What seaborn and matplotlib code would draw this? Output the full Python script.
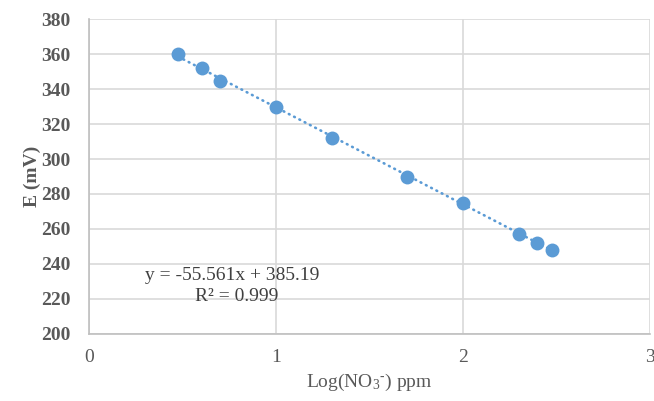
import numpy as np
import pandas as pd
import matplotlib
matplotlib.use("Agg")
import matplotlib.pyplot as plt
import seaborn as sns

# data
log_no3 = [0.477, 0.602, 0.699, 1.0, 1.301, 1.699, 2.0, 2.301, 2.398, 2.477]
e_mv = [360, 352, 345, 330, 312, 290, 275, 257, 252, 248]
slope = -55.561
intercept = 385.19
r2 = 0.999

blue = "#5B9BD5"
grey = "#595959"

sns.set_theme(style="whitegrid")
plt.rcParams['font.family'] = ['Liberation Serif', 'DejaVu Serif']
plt.rcParams['mathtext.fontset'] = 'custom'
plt.rcParams['mathtext.rm'] = 'Liberation Serif'
plt.rcParams['mathtext.it'] = 'Liberation Serif:italic'
plt.rcParams['mathtext.bf'] = 'Liberation Serif:bold'

df = pd.DataFrame({"x": log_no3, "y": e_mv})
# linear trendline, drawn over the range of the data
trend = pd.DataFrame({"x": [min(log_no3), max(log_no3)]})
trend["y"] = slope * trend["x"] + intercept

fig = plt.figure(figsize=(6.54, 4.01), dpi=100)
ax = fig.add_axes([0.136, 0.168, 0.858, 0.7836])

sns.lineplot(data=trend, x="x", y="y", ax=ax, color=blue, linewidth=1.9,
             linestyle=(0, (0.3, 1.95)), dash_capstyle="round", zorder=2)
sns.scatterplot(data=df, x="x", y="y", ax=ax, color=blue, s=100,
                edgecolor=blue, linewidth=0, zorder=3)

ax.set_xlim(0, 3)
ax.set_ylim(200, 380)
ax.set_xticks([0, 1, 2, 3])
ax.set_yticks(np.arange(200, 381, 20))
ax.grid(True, color="#d9d9d9", linewidth=1.2)
ax.set_facecolor("white")
for side in ["top", "right"]:
    ax.spines[side].set_visible(False)
for side in ["left", "bottom"]:
    ax.spines[side].set_color("#bfbfbf")
    ax.spines[side].set_linewidth(1.2)

ax.tick_params(axis="both", length=0, labelsize=14, colors=grey)
ax.tick_params(axis="y", pad=13)
ax.tick_params(axis="x", pad=11)
for lbl in ax.get_yticklabels():
    lbl.set_fontweight("bold")

ax.set_xlabel("Log(NO$_3$$^{\\text{-}}$) ppm", fontsize=14, color=grey, labelpad=4)
ax.set_ylabel("E (mV)", fontsize=14, color=grey, fontweight="bold", labelpad=0.5)

ax.text(0.765, 233.5, f"y = {slope}x + {intercept}", fontsize=14, color="#404040",
        ha="center", va="center")
ax.text(0.79, 221.5, f"R² = {r2}", fontsize=14, color="#404040",
        ha="center", va="center")

fig.savefig("out.png", dpi=100)
